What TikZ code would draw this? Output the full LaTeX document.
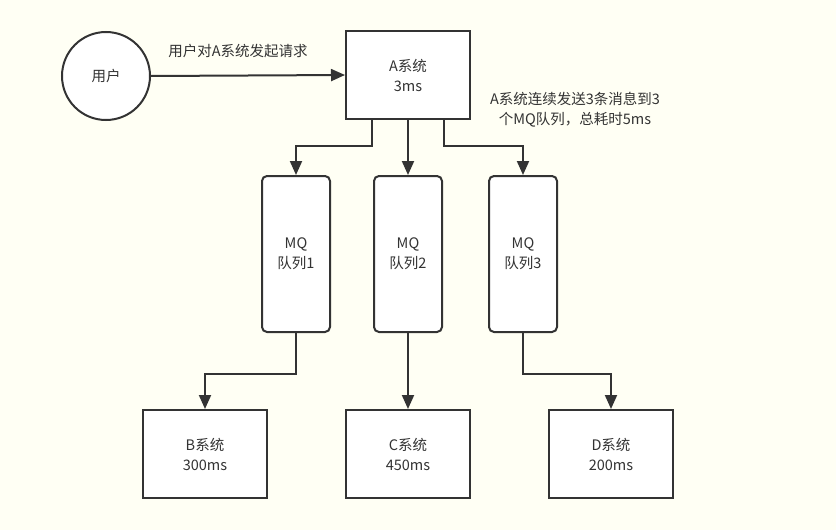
\documentclass[tikz,border=0pt]{standalone}
\usepackage{fontspec}
\setmainfont{Noto Sans CJK SC}
\usetikzlibrary{arrows.meta}
\definecolor{bg}{HTML}{FFFFF4}
\definecolor{ln}{HTML}{333333}
\begin{document}
\begin{tikzpicture}[x=1pt,y=-1pt,
  box/.style={draw=ln,line width=2pt,fill=white,minimum width=124pt,minimum height=88pt,align=center,font=\fontsize{14.5}{20}\selectfont,text=ln},
  mq/.style={draw=ln,line width=2pt,fill=white,rounded corners=5pt,minimum width=68pt,minimum height=156pt,align=center,font=\fontsize{14.5}{20}\selectfont,text=ln},
  con/.style={draw=ln,line width=2pt,-{Triangle[length=14pt,width=12pt]}},
  lbl/.style={font=\fontsize{14.5}{20}\selectfont,text=ln,align=center}]
\fill[bg] (0,0) rectangle (836,530);
\useasboundingbox (0,0) rectangle (836,530);
\node[draw=ln,line width=2pt,fill=white,circle,minimum size=88pt,lbl] (u) at (106,76) {用户};
\node[box] (a) at (408,75) {A系统\\3ms};
\node[lbl] (req) at (238,51) {用户对A系统发起请求};
\node[lbl] (note) at (575,110) {A系统连续发送3条消息到3\\个MQ队列，总耗时5ms};
\node[mq] (m1) at (296,254) {MQ\\队列1};
\node[mq] (m2) at (408,254) {MQ\\队列2};
\node[mq] (m3) at (523,254) {MQ\\队列3};
\node[box] (b) at (205,454) {B系统\\300ms};
\node[box] (c) at (408,454) {C系统\\450ms};
\node[box] (d) at (611,454) {D系统\\200ms};
\draw[con] (u.east) -- (a.west);
\draw[con] ([xshift=-36pt]a.south) |- (296,146) -- (m1.north);
\draw[con] (a.south) -- (m2.north);
\draw[con] ([xshift=36pt]a.south) |- (523,146) -- (m3.north);
\draw[con] (m1.south) |- (205,374) -- (b.north);
\draw[con] (m2.south) -- (c.north);
\draw[con] (m3.south) |- (611,374) -- (d.north);
\end{tikzpicture}
\end{document}
